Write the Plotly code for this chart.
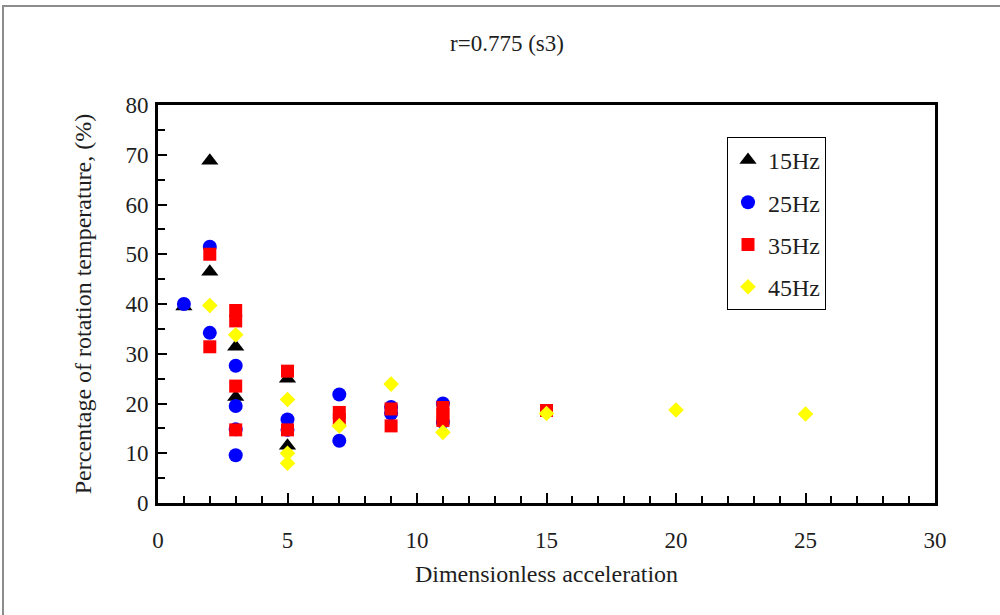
import plotly.graph_objects as go

# Data
x_15 = [1, 2, 2, 3, 3, 5, 5]
y_15 = [39.5, 68.8, 46.5, 31.4, 21.3, 25.0, 11.5]

x_25 = [1, 2, 2, 3, 3, 3, 3, 5, 5, 7, 7, 9, 9, 11, 11]
y_25 = [40.0, 51.5, 34.2, 27.6, 19.5, 14.8, 9.6, 16.8, 14.7, 21.8, 12.5, 19.3, 18.0, 20.0, 16.3]

x_35 = [2, 2, 3, 3, 3, 3, 5, 5, 7, 7, 9, 9, 11, 11, 11, 15]
y_35 = [50.0, 31.4, 38.7, 36.6, 23.5, 14.7, 26.5, 14.7, 18.2, 16.8, 18.9, 15.5, 19.2, 17.8, 16.6, 18.6]

x_45 = [2, 3, 5, 5, 5, 7, 9, 11, 15, 20, 25]
y_45 = [39.7, 33.8, 20.8, 10.0, 8.0, 15.5, 23.9, 14.2, 18.0, 18.7, 17.9]

series_names = ["15Hz", "25Hz", "35Hz", "45Hz"]
x_ticks = [0, 5, 10, 15, 20, 25, 30]
y_ticks = [0, 10, 20, 30, 40, 50, 60, 70, 80]

FONT = "Liberation Serif"
TXT = "#1e1e1e"

fig = go.Figure()
specs = [
    (x_15, y_15, "triangle-up", "#000000", 15),
    (x_25, y_25, "circle", "#0000FF", 14),
    (x_35, y_35, "square", "#FF0000", 13),
    (x_45, y_45, "diamond", "#FFFF00", 12),
]
for i, (xs, ys, sym, col, sz) in enumerate(specs):
    fig.add_trace(go.Scatter(
        x=xs, y=ys, mode="markers", name=series_names[i],
        legendgroup=f"g{i}",
        marker=dict(symbol=sym, color=col, size=sz, line=dict(width=0)),
    ))

axis_common = dict(
    showline=True, linecolor="black", linewidth=3, mirror=True,
    ticks="inside", tickcolor="black", tickwidth=2,
    showgrid=False, zeroline=False,
    tickfont=dict(family=FONT, size=23, color=TXT),
)

fig.update_xaxes(
    range=[0, 30], tickvals=x_ticks, ticklen=10, ticklabelstandoff=14,
    minor=dict(dtick=1, ticks="inside", ticklen=7, tickwidth=2, tickcolor="black"),
    title=dict(text="Dimensionless acceleration", font=dict(family=FONT, size=24, color=TXT), standoff=14),
    **axis_common,
)
fig.update_yaxes(
    range=[0, 80], tickvals=y_ticks, ticklen=9, ticklabelstandoff=2,
    minor=dict(dtick=5, ticks="inside", ticklen=7, tickwidth=2, tickcolor="black"),
    title=dict(text="Percentage of rotation temperature, (%)", font=dict(family=FONT, size=24, color=TXT), standoff=28),
    **axis_common,
)

fig.update_layout(
    width=1000, height=615,
    margin=dict(l=158, r=65, t=105, b=112),
    paper_bgcolor="white", plot_bgcolor="white",
    title=dict(text="r=0.775 (s3)", x=0.507, xanchor="center", y=1 - 43 / 615, yanchor="middle",
               font=dict(family=FONT, size=23, color=TXT)),
    showlegend=True,
    legend=dict(
        x=(727 - 158) / 777, y=(503 - 137) / 398, xanchor="left", yanchor="top",
        bgcolor="white", bordercolor="black", borderwidth=1,
        font=dict(family=FONT, size=24, color=TXT),
        traceorder="grouped", tracegroupgap=8,
        itemwidth=30,
    ),
    shapes=[dict(
        type="rect", xref="paper", yref="paper",
        x0=(3 - 158) / 777, x1=1.3, y0=-0.5, y1=(503 - 6) / 398,
        line=dict(color="#8c8c8c", width=2), fillcolor="rgba(0,0,0,0)", layer="below",
    )],
)

fig.write_html("out.html")
